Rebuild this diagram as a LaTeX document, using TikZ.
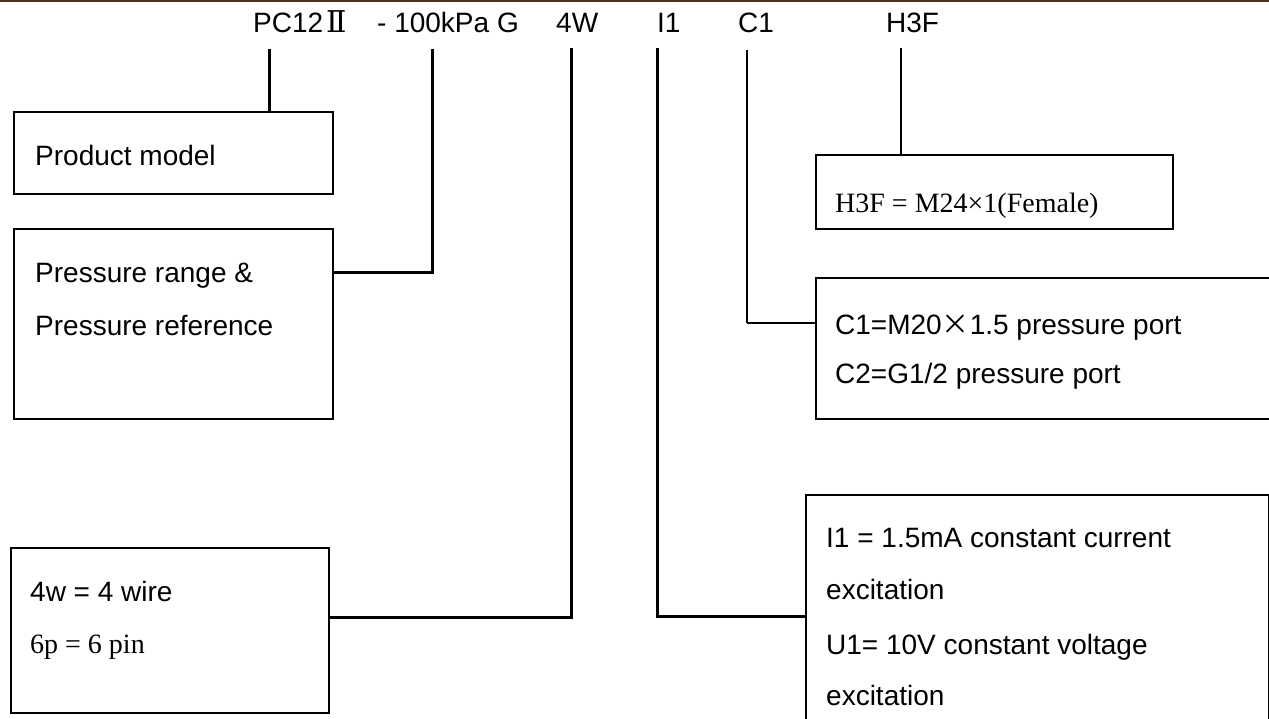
\documentclass[tikz,border=0pt]{standalone}
\usepackage{fontspec}
\setmainfont{Liberation Sans}
\newfontfamily\seriffont{Liberation Serif}
\newfontfamily\cjkfont{Noto Sans CJK SC}
\newfontfamily\romanfont{DejaVu Serif}
\definecolor{rulebrown}{RGB}{74,50,30}
\tikzset{
  box/.style={draw=black, line width=1.5pt, rectangle, inner sep=0pt, anchor=north west},
  txt/.style={anchor=base west, inner sep=0pt, font=\fontsize{28}{34}\selectfont},
  stxt/.style={anchor=base west, inner sep=0pt, font=\fontsize{28}{34}\selectfont\seriffont},
  thickline/.style={line width=3pt, draw=black},
  thinline/.style={line width=1.1pt, draw=black},
  midline/.style={line width=2pt, draw=black}
}
\begin{document}
\begin{tikzpicture}[x=1pt,y=-1pt]
\clip (0,0) rectangle (1269,718);
\fill[white] (0,0) rectangle (1269,718);
\draw[rulebrown, line width=2pt] (0,0.8) -- (1269,0.8);

% header codes
\node[txt] (hpc) at (253,32) {PC12\hspace{3pt}{\romanfont\fontsize{30}{34}\selectfont Ⅱ}};
\node[txt] (hkpa) at (377,32) {- 100kPa G};
\node[txt] (hw) at (556,32) {4W};
\node[txt] (hi) at (657,32) {I1};
\node[txt] (hc) at (738,32) {C1};
\node[txt] (hh) at (886,32) {H3F};

% boxes
\node[box, minimum width=319pt, minimum height=82pt] (b1) at (13,111) {};
\node[box, minimum width=319pt, minimum height=190pt] (b2) at (13,228) {};
\node[box, minimum width=318pt, minimum height=165pt] (b3) at (10,547) {};
\node[box, minimum width=357pt, minimum height=74pt] (bh) at (815,154) {};
\node[box, minimum width=470pt, minimum height=141pt] (bc) at (815,277) {};
\node[box, minimum width=463pt, minimum height=240pt] (bi) at (805,494) {};

% box texts
\node[txt] (t1) at (35,165) {Product model};
\node[txt] (t2a) at (35,282) {Pressure range \&};
\node[txt] (t2b) at (35,335) {Pressure reference};
\node[txt] (t3a) at (30,601) {4w = 4 wire};
\node[stxt] (t3b) at (30,653) {6p = 6 pin};
\node[stxt] (th) at (835,212) {H3F = M24×1(Female)};
\node[txt] (tc1) at (835,334) {C1=M20{\cjkfont ×}1.5 pressure port};
\node[txt] (tc2) at (835,383) {C2=G1/2 pressure port};
\node[txt] (ti1) at (826,547) {I1 = 1.5mA constant current};
\node[txt] (ti2) at (826,599) {excitation};
\node[txt] (ti3) at (826,654) {U1= 10V constant voltage};
\node[txt] (ti4) at (826,705) {excitation};

% connector start points under the codes
\coordinate (c1) at (269,49);
\coordinate (c2) at (432,49);
\coordinate (c3) at (571,48);
\coordinate (c4) at (657,48);
\coordinate (c5) at (747,50);
\coordinate (c6) at (901,48);

\draw[thickline] (c1) -- (c1 |- b1.north);
\draw[thickline, line join=miter] (c2) |- (b2.east |- 0,272);
\draw[thickline, line join=miter] (c3) |- (b3.east |- 0,617);
\draw[thickline, line join=miter] (c4) |- (bi.west |- 0,616);
\draw[thinline] (c5) -- (747,323);
\draw[midline] (747,323) -- (bc.west |- 0,323);
\draw[thinline] (c6) -- (c6 |- bh.north);
\end{tikzpicture}
\end{document}
